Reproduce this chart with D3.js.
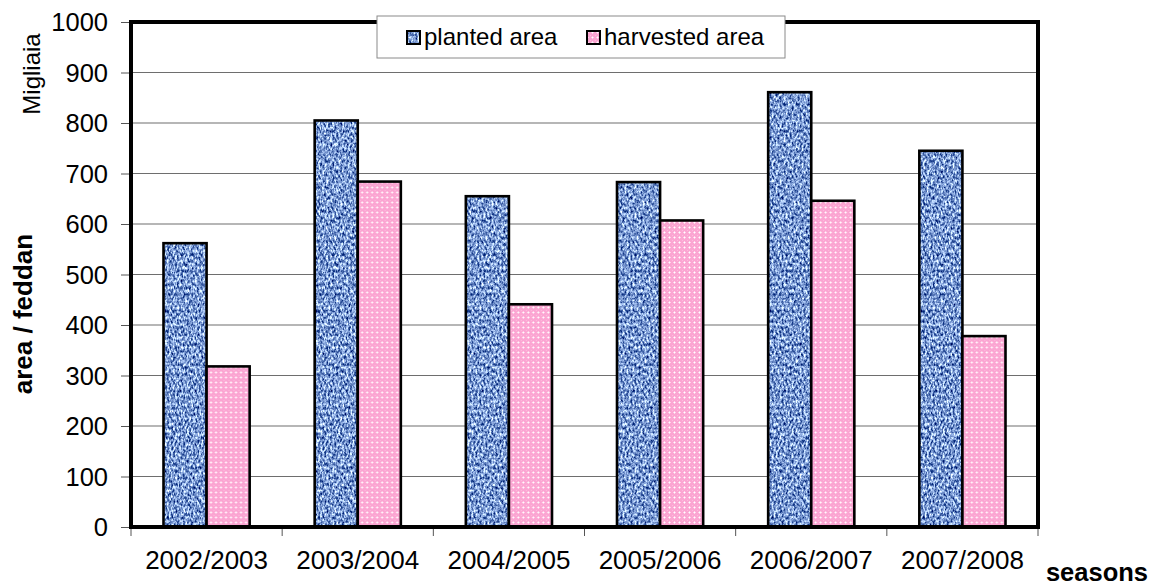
<!DOCTYPE html>
<html>
<head>
<meta charset="utf-8">
<script src="https://cdn.jsdelivr.net/npm/d3@7"></script>
<style>
  body { margin: 0; background: #fff; }
  svg { display: block; }
  text { font-family: Arial, "Liberation Sans", sans-serif; fill: #000; }
</style>
</head>
<body>
<svg id="chart" width="1160" height="587"></svg>
<script>
// Seasons and areas (thousands of feddan)
const seasons = ["2002/2003", "2003/2004", "2004/2005", "2005/2006", "2006/2007", "2007/2008"];
const planted = [562, 805, 655, 683, 861, 745];
const harvested = [318, 684, 441, 607, 646, 378];
const seriesNames = ["planted area", "harvested area"];
const yTicks = [0, 100, 200, 300, 400, 500, 600, 700, 800, 900, 1000];

const svg = d3.select("#chart");
const plot = { left: 131, right: 1038, top: 22, bottom: 527 };

const x0 = d3.scaleBand().domain(seasons)
  .range([plot.left, plot.right]).paddingInner(0.43).paddingOuter(0.215);
const x1 = d3.scaleBand().domain(seriesNames).range([0, x0.bandwidth()]);
const y = d3.scaleLinear().domain([0, 1000]).range([plot.bottom, plot.top]);
const step = x0.step();

// ---- fills ----
const defs = svg.append("defs");
const denim = defs.append("filter").attr("id", "denim")
  .attr("x", "0").attr("y", "0").attr("width", "1").attr("height", "1")
  .attr("color-interpolation-filters", "sRGB");
denim.append("feTurbulence").attr("type", "fractalNoise")
  .attr("baseFrequency", "0.5 0.3").attr("numOctaves", 3).attr("seed", 7).attr("result", "noise");
denim.append("feColorMatrix").attr("in", "noise").attr("type", "matrix")
  .attr("values", "1.8 0 0 0 -0.42  1.7 0 0 0 -0.25  1.3 0 0 0 0.17  0 0 0 0 1")
  .attr("result", "tint");
denim.append("feComposite").attr("in", "tint").attr("in2", "SourceGraphic").attr("operator", "in");

const pink = defs.append("pattern").attr("id", "pinkcheck")
  .attr("patternUnits", "userSpaceOnUse").attr("width", 5).attr("height", 5);
pink.append("rect").attr("width", 5).attr("height", 5).attr("fill", "#fba5d2");
[[2,1],[1,2],[3,2],[2,3]].forEach(([px, py]) =>
  pink.append("rect").attr("x", px).attr("y", py).attr("width", 1).attr("height", 1).attr("fill", "#ffd4ea"));
pink.append("rect").attr("x", 2).attr("y", 2).attr("width", 1).attr("height", 1).attr("fill", "#ffffff");
pink.append("rect").attr("x", 0).attr("y", 0).attr("width", 1).attr("height", 1).attr("fill", "#fdbcdc");

// ---- gridlines ----
svg.append("g").selectAll("line").data(yTicks.filter(d => d > 0)).join("line")
  .attr("x1", plot.left).attr("x2", plot.right)
  .attr("y1", d => y(d)).attr("y2", d => y(d))
  .attr("stroke", "#6e6e6e").attr("stroke-width", 1.2);

// ---- bars ----
const rows = seasons.map((s, i) => ({ season: s, values: [planted[i], harvested[i]] }));
const groups = svg.append("g").selectAll("g").data(rows).join("g")
  .attr("transform", d => `translate(${x0(d.season)},0)`);

groups.each(function (d) {
  const g = d3.select(this);
  d.values.forEach((v, k) => {
    const bx = x1(seriesNames[k]);
    const bw = x1.bandwidth();
    if (k === 0) {
      g.append("rect").attr("x", bx).attr("y", y(v)).attr("width", bw).attr("height", y(0) - y(v))
        .attr("fill", "#000").attr("filter", "url(#denim)");
    } else {
      g.append("rect").attr("x", bx).attr("y", y(v)).attr("width", bw).attr("height", y(0) - y(v))
        .attr("fill", "url(#pinkcheck)");
    }
    g.append("rect").attr("x", bx).attr("y", y(v)).attr("width", bw).attr("height", y(0) - y(v))
      .attr("fill", "none").attr("stroke", "#000").attr("stroke-width", 2.6);
  });
});

// ---- frame ----
svg.append("rect").attr("x", plot.left).attr("y", plot.top)
  .attr("width", plot.right - plot.left).attr("height", plot.bottom - plot.top)
  .attr("fill", "none").attr("stroke", "#000").attr("stroke-width", 4);

// ---- axes ----
const yAxis = svg.append("g").attr("transform", `translate(${plot.left - 2},0)`)
  .call(d3.axisLeft(y).tickValues(yTicks).tickFormat(d3.format("d")).tickSize(8).tickPadding(13));
yAxis.select(".domain").remove();
yAxis.selectAll(".tick line").attr("stroke", "#555");
yAxis.selectAll(".tick text").attr("font-size", 25.5).attr("font-family", "Arial, 'Liberation Sans', sans-serif")
  .attr("fill", "#000").attr("dy", "0.34em");

const bounds = seasons.map(s => x0(s) - step * 0.215).concat([plot.right]);
svg.append("g").selectAll("line").data(bounds).join("line")
  .attr("x1", d => d).attr("x2", d => d)
  .attr("y1", plot.bottom + 2).attr("y2", plot.bottom + 9)
  .attr("stroke", "#555").attr("stroke-width", 1);

svg.append("g").selectAll("text").data(seasons).join("text")
  .attr("x", d => x0(d) + x0.bandwidth() / 2).attr("y", 569)
  .attr("text-anchor", "middle").attr("font-size", 26).text(d => d);

// ---- axis titles ----
svg.append("text").attr("transform", "translate(32,314) rotate(-90)")
  .attr("text-anchor", "middle").attr("font-size", 26).attr("font-weight", "bold").text("area / feddan");
svg.append("text").attr("transform", "translate(40,74) rotate(-90)")
  .attr("text-anchor", "middle").attr("font-size", 24).text("Migliaia");
svg.append("text").attr("x", 1148).attr("y", 581)
  .attr("text-anchor", "end").attr("font-size", 25.5).attr("font-weight", "bold").text("seasons");

// ---- legend ----
const legend = svg.append("g");
legend.append("rect").attr("x", 377).attr("y", 16).attr("width", 408).attr("height", 42)
  .attr("fill", "#fff").attr("stroke", "#8a8a8a").attr("stroke-width", 1);
const legendItems = [
  { name: seriesNames[0], sx: 407, tx: 424 },
  { name: seriesNames[1], sx: 587, tx: 604 }
];
legendItems.forEach((it, k) => {
  if (k === 0) {
    legend.append("rect").attr("x", it.sx).attr("y", 31).attr("width", 13).attr("height", 13)
      .attr("fill", "#000").attr("filter", "url(#denim)");
  } else {
    legend.append("rect").attr("x", it.sx).attr("y", 31).attr("width", 13).attr("height", 13)
      .attr("fill", "url(#pinkcheck)");
  }
  legend.append("rect").attr("x", it.sx).attr("y", 31).attr("width", 13).attr("height", 13)
    .attr("fill", "none").attr("stroke", "#000").attr("stroke-width", 2);
  legend.append("text").attr("x", it.tx).attr("y", 45).attr("font-size", 24).text(it.name);
});
</script>
</body>
</html>
